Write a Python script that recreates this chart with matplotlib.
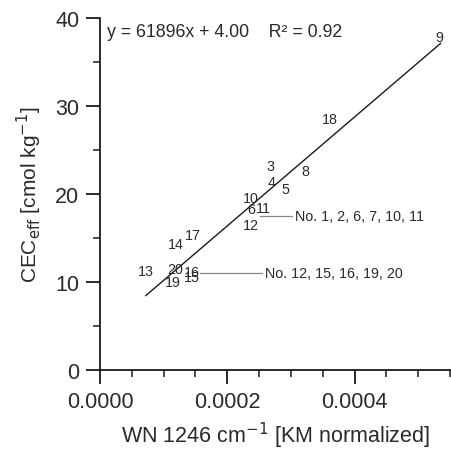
import matplotlib
matplotlib.use("Agg")
import matplotlib.pyplot as plt
import numpy as np

plt.rcParams['font.family'] = ['Liberation Sans', 'DejaVu Sans']

# sample labels and their positions (WN 1246 intensity, CEC_eff)
labels = ["9", "18", "3", "8", "4", "5", "10", "6", "11", "12",
          "17", "14", "13", "20", "16", "19", "15"]
wn = [0.000533, 0.000361, 0.000268, 0.000322, 0.000270, 0.000292,
      0.000237, 0.000238, 0.000256, 0.000237,
      0.000146, 0.000119, 0.0000722, 0.000118, 0.000144, 0.000115, 0.000144]
cec = [37.8, 28.5, 23.2, 22.6, 21.4, 20.6,
       19.5, 18.3, 18.4, 16.5,
       15.3, 14.3, 11.25, 11.5, 11.1, 10.0, 10.6]

slope = 61896
intercept = 4.00
r2 = 0.92
fit_x = [0.000072, 0.000535]

group1_text = "No. 1, 2, 6, 7, 10, 11"
group2_text = "No. 12, 15, 16, 19, 20"

fig = plt.figure(figsize=(4.51, 4.56), dpi=100)
ax = fig.add_axes([0.2217, 0.1864, 0.7763, 0.7719])

txt_color = "#2a2a2a"
fx = np.array(fit_x)
ax.plot(fx, slope * fx + intercept, color="#1a1a1a", lw=1.0)

for lab, xv, yv in zip(labels, wn, cec):
    ax.text(xv, yv, lab, fontsize=10.3, ha="center", va="center", color=txt_color)

# group annotations
ax.plot([0.000251, 0.000301], [17.5, 17.5], color="#888888", lw=0.9)
ax.text(0.000307, 17.5, group1_text, fontsize=10.3, ha="left", va="center", color=txt_color)
ax.plot([0.000157, 0.000254], [11.0, 11.0], color="#888888", lw=0.9)
ax.text(0.000259, 11.0, group2_text, fontsize=10.3, ha="left", va="center", color=txt_color)

ax.text(0.0000115, 38.5, f"y = {slope}x + {intercept:.2f}    R² = {r2:.2f}",
        fontsize=12.8, ha="left", va="center", color=txt_color)

ax.set_xlim(0, 0.00055)
ax.set_ylim(0, 40)
ax.set_xticks([0.0, 0.0002, 0.0004])
ax.set_xticklabels(["0.0000", "0.0002", "0.0004"])
ax.set_xticks(np.arange(0, 0.000551, 0.00005), minor=True)
ax.set_yticks([0, 10, 20, 30, 40])
ax.set_yticks([5, 15, 25, 35], minor=True)

for s in ["top", "right"]:
    ax.spines[s].set_visible(False)
for s in ["left", "bottom"]:
    ax.spines[s].set_linewidth(1.3)
    ax.spines[s].set_color("#1a1a1a")

ax.tick_params(axis="both", which="major", direction="out", length=10, width=1.3,
               labelsize=15.5, colors="#1a1a1a", labelcolor=txt_color, pad=5)
ax.tick_params(axis="both", which="minor", direction="out", length=5, width=1.1,
               colors="#1a1a1a")

ax.set_xlabel("WN 1246 cm$^{-1}$ [KM normalized]", fontsize=15.5, color=txt_color, labelpad=6)
ax.set_ylabel("CEC$_{\\mathrm{eff}}$ [cmol kg$^{-1}$]", fontsize=15, color=txt_color, labelpad=8)

fig.savefig("out.png", dpi=100)
